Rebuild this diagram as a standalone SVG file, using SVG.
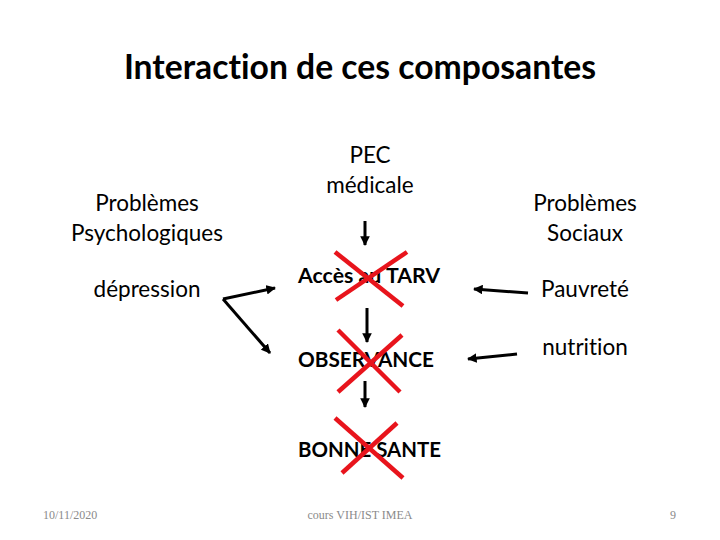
<svg xmlns="http://www.w3.org/2000/svg" width="720" height="540" viewBox="0 0 720 540">
<style>
text{font-family:Lato,"Open Sans","Liberation Sans",sans-serif;fill:#000;font-variant-ligatures:none}
.t{font-size:33.7px;font-weight:bold;text-anchor:middle}
.n{font-size:22.5px;text-anchor:middle}
.b{font-size:21.3px;font-weight:bold}
.f{font-family:"Liberation Serif",serif;font-size:12px;fill:#8a8a8a}
.a{stroke:#000;stroke-width:3;fill:none;marker-end:url(#h)}
.x{stroke:#e8141c;stroke-width:4.5;stroke-linecap:butt}
</style>
<defs>
<marker id="h" viewBox="0 0 10 10" refX="9" refY="5" markerWidth="3.2" markerHeight="3.2" orient="auto" markerUnits="strokeWidth">
<path d="M0,0 L10,5 L0,10 z" fill="#000"/>
</marker>
</defs>
<rect width="720" height="540" fill="#fff"/>
<text class="t" x="360" y="79">Interaction de ces composantes</text>
<g id="psy"><text class="n" x="147" y="211">Problèmes</text><text class="n" x="147" y="241">Psychologiques</text></g>
<g id="pec"><text class="n" x="370" y="163">PEC</text><text class="n" x="370" y="193">médicale</text></g>
<g id="soc"><text class="n" x="585" y="211">Problèmes</text><text class="n" x="585" y="241">Sociaux</text></g>
<g id="dep"><text class="n" x="147" y="297">dépression</text></g>
<g id="tarv"><text class="b" x="298" y="283">Accès au TARV</text></g>
<g id="pauv"><text class="n" x="585" y="297">Pauvreté</text></g>
<g id="obs"><text class="b" x="298" y="367" textLength="136" lengthAdjust="spacingAndGlyphs">OBSERVANCE</text></g>
<g id="nut"><text class="n" x="585" y="355">nutrition</text></g>
<g id="bonne"><text class="b" x="298" y="457" textLength="143" lengthAdjust="spacingAndGlyphs">BONNE SANTE</text></g>
<g id="connectors">
<line class="a" x1="365" y1="221" x2="365" y2="245"/>
<line class="a" x1="367" y1="308" x2="367" y2="342"/>
<line class="a" x1="365" y1="381" x2="365" y2="407"/>
<line class="a" x1="223" y1="299" x2="275" y2="288"/>
<line class="a" x1="223" y1="299" x2="270" y2="353"/>
<line class="a" x1="528" y1="293" x2="474" y2="289"/>
<line class="a" x1="517" y1="354" x2="468" y2="359"/>
</g>
<g id="crosses">
<line class="x" x1="335" y1="252" x2="403" y2="306"/>
<line class="x" x1="407" y1="252" x2="336" y2="300"/>
<line class="x" x1="338" y1="330" x2="400" y2="392"/>
<line class="x" x1="402" y1="335" x2="338" y2="392"/>
<line class="x" x1="335" y1="418" x2="403" y2="478"/>
<line class="x" x1="397" y1="423" x2="342" y2="473"/>
</g>
<g id="footer">
<text class="f" x="43" y="519">10/11/2020</text>
<text class="f" x="360" y="519" text-anchor="middle">cours VIH/IST IMEA</text>
<text class="f" x="676" y="519" text-anchor="end">9</text>
</g>
</svg>
